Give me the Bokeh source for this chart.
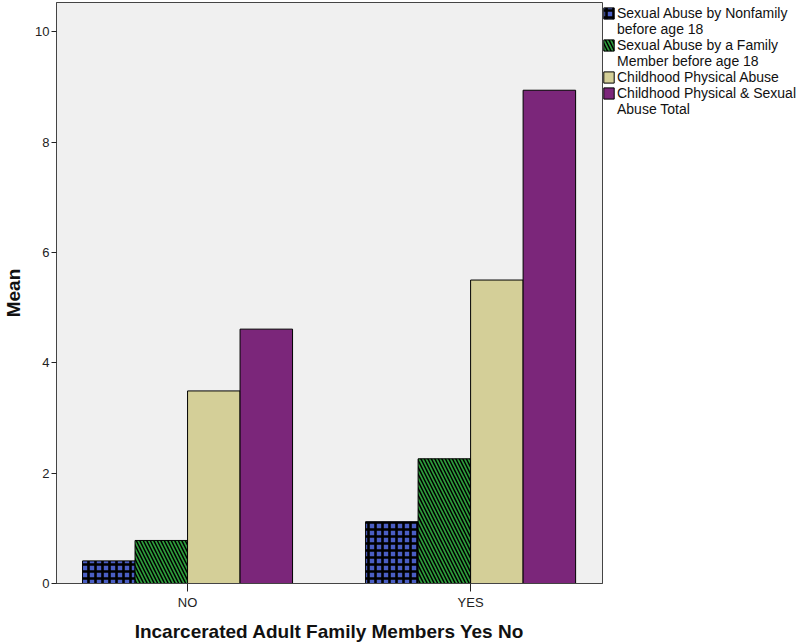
import numpy as np
from bokeh.plotting import figure
from bokeh.models import Range1d, FixedTicker, Legend, LegendItem, ColumnDataSource
from bokeh.embed import file_html
from bokeh.resources import INLINE

groups = ["NO", "YES"]
series = [["Sexual Abuse by Nonfamily", "before age 18"],
          ["Sexual Abuse by a Family", "Member before age 18"],
          ["Childhood Physical Abuse"],
          ["Childhood Physical & Sexual", "Abuse Total"]]
nonfamily = [0.41, 1.12]
family = [0.78, 2.26]
physical = [3.49, 5.50]
total = [4.61, 8.94]
values = [nonfamily, family, physical, total]
y_ticks = [0, 2, 4, 6, 8, 10]

colors = ["#4a5ec4", "#2e9e3c", "#d4cf98", "#7b267a"]

p = figure(frame_width=546, frame_height=581, output_backend="svg", toolbar_location=None,
           x_range=Range1d(-0.463, 1.466), y_range=Range1d(0, 10.53),
           min_border_left=49, min_border_right=10, min_border_top=2,
           min_border_bottom=54)
p.background_fill_color = "#f0f0f0"
p.border_fill_color = "white"
p.outline_line_color = "#444444"
p.outline_line_width = 1
p.grid.visible = False

bw = 0.1855
xs = np.arange(len(groups), dtype=float)
blank = p.vbar(x=[], top=[], width=0.1, fill_alpha=0, line_alpha=0)
items = []
for i, (name, vals, col) in enumerate(zip(series, values, colors)):
    src = ColumnDataSource(dict(x=xs + (i - 1.5) * bw, top=vals))
    kw = {}
    if i == 0:
        kw = dict(hatch_pattern="cross", hatch_color="black",
                  hatch_scale=7, hatch_weight=2.6)
    elif i == 1:
        kw = dict(hatch_pattern="left_diagonal_line", hatch_color="black",
                  hatch_scale=7, hatch_weight=1.5)
    r = p.vbar(x="x", top="top", bottom=0, width=bw, source=src,
               fill_color=col, line_color="black", line_width=1, **kw)
    items.append(LegendItem(label=name[0], renderers=[r]))
    for extra in name[1:]:
        items.append(LegendItem(label=extra, renderers=[blank]))

legend = Legend(items=items, location=(0, 466), orientation="vertical",
                border_line_alpha=0, background_fill_alpha=0,
                glyph_width=13, glyph_height=14, label_text_font="Liberation Sans",
                label_text_font_size="14px", label_text_color="#111111",
                label_standoff=2, spacing=0, padding=0, margin=0,
                label_height=15, label_text_line_height=1.0)
p.add_layout(legend, "right")

# axes
p.xaxis.ticker = FixedTicker(ticks=list(xs))
p.xaxis.major_label_overrides = {0: "NO", 1: "YES"}
p.yaxis.ticker = FixedTicker(ticks=y_ticks)
for ax in (p.xaxis, p.yaxis):
    ax.axis_line_color = "#444444"
    ax.major_tick_line_color = "#222222"
    ax.major_tick_out = 8
    ax.major_tick_in = 0
    ax.minor_tick_line_color = None
    ax.major_label_text_font = "Liberation Sans"
    ax.major_label_text_font_size = "13px"
    ax.major_label_text_color = "#222222"
    ax.axis_label_text_font = "Liberation Sans"
    ax.axis_label_text_font_style = "bold"
    ax.axis_label_text_font_size = "19px"
    ax.axis_label_text_color = "#111111"
p.yaxis.major_tick_out = 5
p.xaxis.axis_label = "Incarcerated Adult Family Members Yes No"
p.yaxis.axis_label = "Mean"
p.xaxis.major_label_standoff = 3
p.xaxis.axis_label_standoff = 8
p.yaxis.major_label_standoff = 2
p.yaxis.axis_label_standoff = 8

open("out.html", "w").write(file_html(p, INLINE))
